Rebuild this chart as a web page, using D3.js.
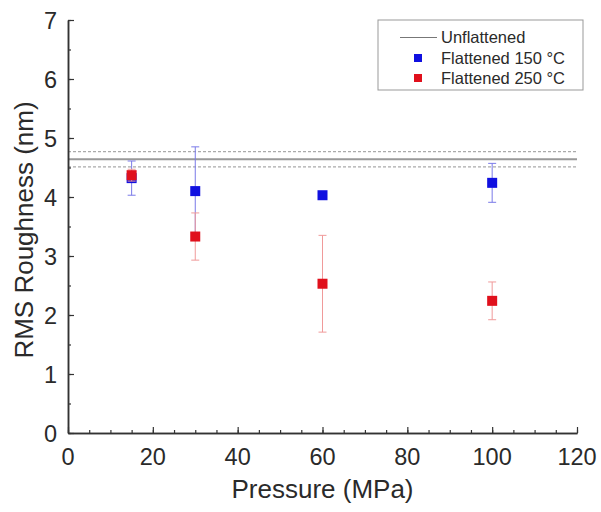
<!DOCTYPE html>
<html>
<head>
<meta charset="utf-8">
<script src="https://cdnjs.cloudflare.com/ajax/libs/d3/7.8.5/d3.min.js"></script>
<style>
  body { margin: 0; background: #fff; }
  text { font-family: 'Liberation Sans', Arial, sans-serif; fill: #2a2a2a; }
  .tick-label { font-size: 23.5px; }
  .axis-title { font-size: 26px; }
  .legend text { font-size: 16.5px; }
</style>
</head>
<body>
<div id="chart"></div>
<script>
// pressure (MPa)
const pressure = [15, 30, 60, 100];
// flattened at 150 C
const rms150 = [4.32, 4.10, 4.03, 4.24];
const err150 = [0.29, 0.75, 0.05, 0.33];
// flattened at 250 C
const rms250 = [4.37, 3.33, 2.53, 2.24];
const err250 = [0.10, 0.40, 0.82, 0.32];
// unflattened reference (mean and band)
const unflatMean = 4.64;
const unflatBand = [4.51, 4.77];

const xTicks = [0, 20, 40, 60, 80, 100, 120];
const yTicks = [0, 1, 2, 3, 4, 5, 6, 7];

const W = 601, H = 512;
const margin = { left: 68, right: 24, top: 20, bottom: 79 };

const svg = d3.select('#chart').append('svg')
  .attr('width', W).attr('height', H);

const x = d3.scaleLinear().domain([0, 120]).range([margin.left, W - margin.right]);
const y = d3.scaleLinear().domain([0, 7]).range([H - margin.bottom, margin.top]);

// unflattened lines
svg.append('line')
  .attr('x1', x(0)).attr('x2', x(120))
  .attr('y1', y(unflatMean)).attr('y2', y(unflatMean))
  .attr('stroke', '#999').attr('stroke-width', 2);
svg.selectAll('.band').data(unflatBand).enter().append('line')
  .attr('class', 'band')
  .attr('x1', x(0)).attr('x2', x(120))
  .attr('y1', d => y(d)).attr('y2', d => y(d))
  .attr('stroke', '#aaa').attr('stroke-width', 1.2)
  .attr('stroke-dasharray', '3,2');

// series
function drawSeries(vals, errs, col, errCol) {
  const data = pressure.map((p, i) => ({ p: p, v: vals[i], e: errs[i] }));
  const g = svg.append('g');
  g.selectAll('.eb').data(data).enter().append('line')
    .attr('x1', d => x(d.p)).attr('x2', d => x(d.p))
    .attr('y1', d => y(d.v - d.e)).attr('y2', d => y(d.v + d.e))
    .attr('stroke', errCol).attr('stroke-width', 1);
  [-1, 1].forEach(s => {
    g.selectAll('.cap' + s).data(data).enter().append('line')
      .attr('x1', d => x(d.p) - 4).attr('x2', d => x(d.p) + 4)
      .attr('y1', d => y(d.v + s * d.e)).attr('y2', d => y(d.v + s * d.e))
      .attr('stroke', errCol).attr('stroke-width', 1);
  });
  g.selectAll('rect').data(data).enter().append('rect')
    .attr('x', d => x(d.p) - 5).attr('y', d => y(d.v) - 5)
    .attr('width', 10).attr('height', 10)
    .attr('fill', col);
}
drawSeries(rms150, err150, '#1010e0', '#7a7ae8');
drawSeries(rms250, err250, '#e0101c', '#f09a9a');

// axes (ticks inward)
const xAxis = d3.axisBottom(x).tickValues(xTicks).tickSizeInner(-6).tickSizeOuter(0).tickFormat('');
const xMinor = d3.axisBottom(x).tickValues(d3.range(0, 121, 5)).tickSizeInner(-3).tickSizeOuter(0).tickFormat('');
const yAxis = d3.axisLeft(y).tickValues(yTicks).tickSizeInner(-6).tickSizeOuter(0).tickFormat('');
const yMinor = d3.axisLeft(y).tickValues(d3.range(0, 7.01, 0.5)).tickSizeInner(-3).tickSizeOuter(0).tickFormat('');

[xMinor, xAxis].forEach(a => svg.append('g')
  .attr('transform', `translate(0,${y(0)})`).call(a));
[yMinor, yAxis].forEach(a => svg.append('g')
  .attr('transform', `translate(${x(0)},0)`).call(a));
svg.selectAll('.domain').attr('stroke', '#333').attr('stroke-width', 1.5);
svg.selectAll('.tick line').attr('stroke', '#333').attr('stroke-width', 1.2);

svg.selectAll('.xl').data(xTicks).enter().append('text')
  .attr('class', 'tick-label')
  .attr('x', d => x(d)).attr('y', 465)
  .attr('text-anchor', 'middle').text(d => d);
svg.selectAll('.yl').data(yTicks).enter().append('text')
  .attr('class', 'tick-label')
  .attr('x', 57).attr('y', d => y(d) + 8.5)
  .attr('text-anchor', 'end').text(d => d);

svg.append('text').attr('class', 'axis-title')
  .attr('x', (x(0) + x(120)) / 2).attr('y', 498)
  .attr('text-anchor', 'middle').text('Pressure (MPa)');
svg.append('text').attr('class', 'axis-title')
  .attr('transform', `translate(33,230) rotate(-90)`)
  .attr('text-anchor', 'middle').text('RMS Roughness (nm)');

// legend
const lg = svg.append('g').attr('class', 'legend');
lg.append('rect').attr('x', 378).attr('y', 20).attr('width', 205).attr('height', 70)
  .attr('fill', '#fff').attr('stroke', '#999').attr('stroke-width', 1);
lg.append('line').attr('x1', 400).attr('x2', 437).attr('y1', 37.5).attr('y2', 37.5)
  .attr('stroke', '#777').attr('stroke-width', 1);
lg.append('text').attr('x', 441).attr('y', 43).text('Unflattened');
lg.append('rect').attr('x', 414).attr('y', 54).attr('width', 8).attr('height', 8).attr('fill', '#1010e0');
lg.append('text').attr('x', 441).attr('y', 63.5).text('Flattened 150 °C');
lg.append('rect').attr('x', 414).attr('y', 74).attr('width', 8).attr('height', 8).attr('fill', '#e0101c');
lg.append('text').attr('x', 441).attr('y', 83.5).text('Flattened 250 °C');
</script>
</body>
</html>
